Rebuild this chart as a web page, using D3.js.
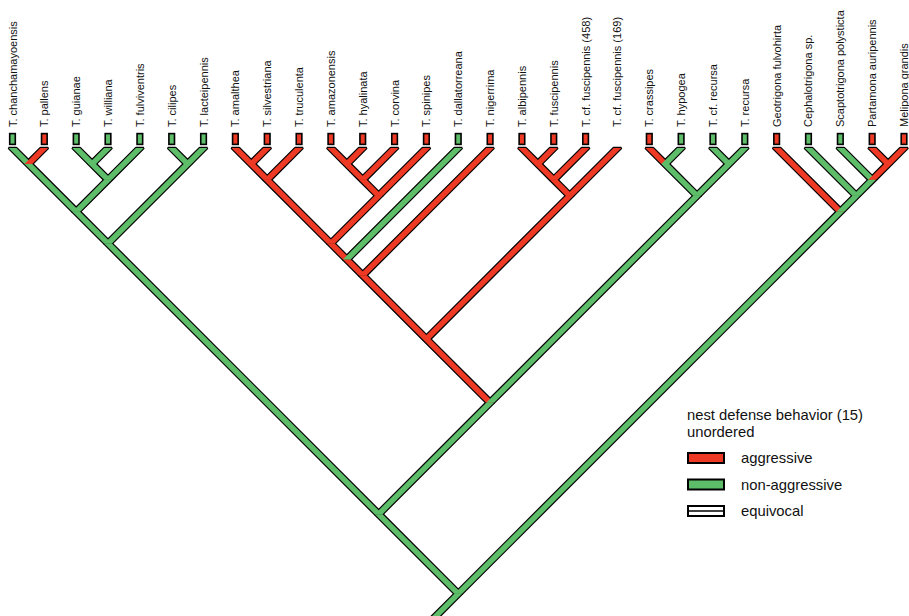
<!DOCTYPE html>
<html>
<head>
<meta charset="utf-8">
<script src="https://cdn.jsdelivr.net/npm/d3@7"></script>
<style>
  html, body { margin: 0; padding: 0; background: #fff; }
  svg { display: block; }
  text { font-family: "Liberation Sans", Arial, sans-serif; fill: #111; }
</style>
</head>
<body>
<svg id="chart" width="909" height="616"></svg>
<script>
// ---- Data ----
const tipNames = [
  "T. chanchamayoensis", "T. pallens", "T. guianae", "T. williana", "T. fulviventris",
  "T. cilipes", "T. lacteipennis", "T. amalthea", "T. silvestriana", "T. truculenta",
  "T. amazonensis", "T. hyalinata", "T. corvina", "T. spinipes", "T. dallatorreana",
  "T. nigerrima", "T. albipennis", "T. fuscipennis", "T. cf. fuscipennis (458)", "T. cf. fuscipennis (169)",
  "T. crassipes", "T. hypogea", "T. cf. recursa", "T. recursa", "Geotrigona fulvohirta",
  "Cephalotrigona sp.", "Scaptotrigona polysticta", "Partamona auripennis", "Melipona grandis"
];
// observed state at each tip ("a" aggressive, "n" non-aggressive, null = not scored)
const tipObserved = ["n","a","n","n","n","n","n","a","a","a","a","a","a","a","n","a","a","a","a",null,
                     "a","n","n","n","a","n","n","a","a"];
// reconstructed state on each terminal branch
const tipBranchStates = ["n","a","n","n","n","n","n","a","a","a","a","a","a","a","n","a","a","a","a","a",
                         "a","n","n","n","a","n","n","a","a"];
// topology (tip indices) with reconstructed state of each internal node
const newick = "(((((0,1)n,((2,3)n,4)n)n,(5,6)n)n,(((((((7,8)a,9)a,(((10,11)a,12)a,13)a)a,14)a,15)a,(((16,17)a,18)a,19)a)a,((20,21)n,(22,23)n)n)n)n,(24,(25,(26,(27,28)a)n)n)n)n";

const stateKeys = ["a", "n", "e"];
const stateLabels = ["aggressive", "non-aggressive", "equivocal"];
const stateColors = {a: "#ee3a24", n: "#5dbd69", e: "#ffffff"};
const legendTitle = ["nest defense behavior (15)", "unordered"];

// ---- Parse ----
function parse(s) {
  let i = 0;
  function node() {
    if (s[i] === "(") {
      i++;
      const children = [node()];
      while (s[i] === ",") { i++; children.push(node()); }
      i++; // ')'
      let lab = "";
      while (i < s.length && /[a-z]/.test(s[i])) lab += s[i++];
      return {children, state: lab};
    } else {
      let num = "";
      while (i < s.length && /[0-9]/.test(s[i])) num += s[i++];
      const t = +num;
      return {tip: t, state: tipBranchStates[t]};
    }
  }
  return node();
}

const root = d3.hierarchy(parse(newick));

const svg = d3.select("#chart");
const tipY = 148;
const x = d3.scaleLinear().domain([0, tipNames.length - 1]).range([12.5, 904]);

root.eachAfter(n => {
  if (!n.children) { n.L = n.data.tip; n.R = n.data.tip; }
  else { n.L = d3.min(n.children, c => c.L); n.R = d3.max(n.children, c => c.R); }
  n.px = x((n.L + n.R) / 2);
  n.py = tipY + (x(n.R) - x(n.L)) / 2;
});

const hw = 3.9; // horizontal half-width of a branch
function branchPath(x1, y1, x2, y2) {
  return `M${x1 - hw},${y1}L${x1 + hw},${y1}L${x2 + hw},${y2}L${x2 - hw},${y2}Z`;
}

const branches = [];
root.each(n => {
  if (n.parent) branches.push({d: branchPath(n.px, n.py, n.parent.px, n.parent.py), s: n.data.state});
  else branches.push({d: branchPath(n.px, n.py, n.px - 45, n.py + 45), s: n.data.state});
});

// outline pass
svg.append("g").selectAll("path").data(branches).join("path")
  .attr("d", b => b.d)
  .attr("fill", "#000")
  .attr("stroke", "#000")
  .attr("stroke-width", 2.4)
  .attr("stroke-linejoin", "bevel");
// fill pass
svg.append("g").selectAll("path").data(branches).join("path")
  .attr("d", b => b.d)
  .attr("fill", b => stateColors[b.s]);

// tip boxes
const tips = tipNames.map((name, i) => ({name, i, obs: tipObserved[i]}));
svg.append("g").selectAll("rect").data(tips.filter(t => t.obs)).join("rect")
  .attr("x", t => x(t.i) - 2.8)
  .attr("y", 133.6)
  .attr("width", 5.6)
  .attr("height", 10.8)
  .attr("fill", t => stateColors[t.obs])
  .attr("stroke", "#000")
  .attr("stroke-width", 1.6);

// tip labels
svg.append("g").selectAll("text").data(tips).join("text")
  .attr("transform", t => `translate(${x(t.i) + 4},127) rotate(-90)`)
  .attr("font-size", 11)
  .text(t => t.name);

// legend
const lg = svg.append("g").attr("transform", "translate(687,0)");
lg.selectAll("text.title").data(legendTitle).join("text")
  .attr("class", "title")
  .attr("x", 0)
  .attr("y", (d, i) => 420 + i * 17)
  .attr("font-size", 14.8)
  .text(d => d);
const items = stateKeys.map((k, i) => ({k, label: stateLabels[i], i}));
const ig = lg.selectAll("g.item").data(items).join("g")
  .attr("class", "item")
  .attr("transform", d => `translate(0,${453 + d.i * 26.5})`);
ig.append("rect")
  .attr("x", 1).attr("y", 0).attr("width", 36).attr("height", 10)
  .attr("fill", d => stateColors[d.k])
  .attr("stroke", "#000").attr("stroke-width", 2);
ig.filter(d => d.k === "e").append("line")
  .attr("x1", 1).attr("x2", 37).attr("y1", 5).attr("y2", 5)
  .attr("stroke", "#000").attr("stroke-width", 1.5);
ig.append("text")
  .attr("x", 54).attr("y", 10)
  .attr("font-size", 14.8)
  .text(d => d.label);
</script>
</body>
</html>
